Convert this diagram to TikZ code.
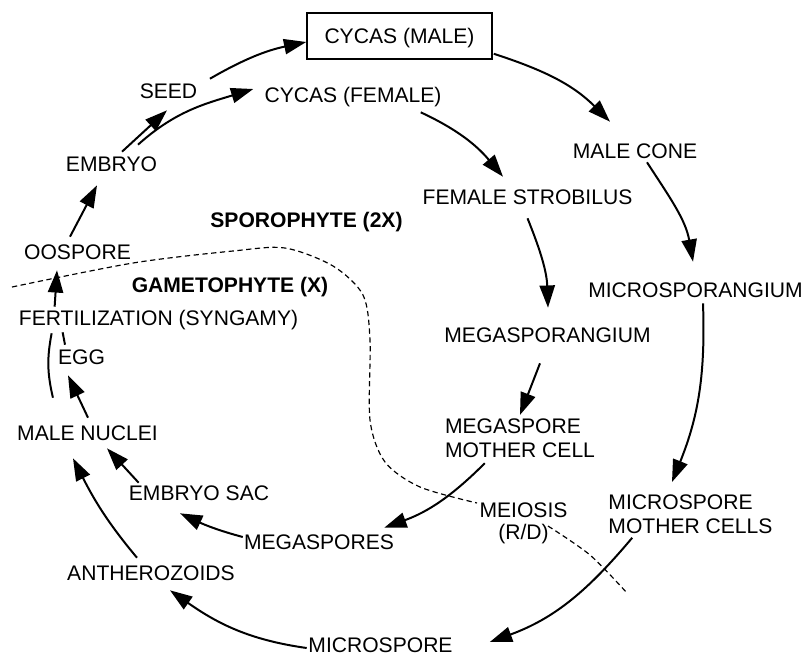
\documentclass[tikz,border=0pt]{standalone}
\usepackage{fontspec}
\setmainfont{Liberation Sans}
\usetikzlibrary{arrows.meta}

\begin{document}
\begin{tikzpicture}[x=0.03cm, y=0.03cm,
    lbl/.style={inner sep=3pt, font=\fontsize{18}{20.4}\selectfont, text height=12.9pt, text depth=0pt},
    lbltwo/.style={inner sep=3pt, font=\fontsize{18}{20.4}\selectfont, align=left},
    phase/.style={lbl, font=\fontsize{18}{20.4}\selectfont\bfseries},
    box/.style={lbl, draw, line width=1.3pt, inner sep=0pt, minimum width=5.55cm, minimum height=1.38cm},
    arr/.style={line width=1.7pt, -{Triangle[length=19pt, width=13pt]}},
    link/.style={line width=1.7pt},
    bound/.style={line width=1pt, dash pattern=on 4.5pt off 3pt}]
                \useasboundingbox (0,0) rectangle (809,-658);
                \node[box] (male) at (399.5,-36) {CYCAS (MALE)};
                \node[lbl] (female) at (353,-95) {CYCAS (FEMALE)};
                \node[lbl] (seed) at (168.5,-91) {SEED};
                \node[lbl] (embryo) at (111.5,-164) {EMBRYO};
                \node[lbl] (oospore) at (77.5,-252) {OOSPORE};
                \node[phase] (sporo) at (306.5,-220) {SPOROPHYTE (2X)};
                \node[phase] (gameto) at (230,-285) {GAMETOPHYTE (X)};
                \node[lbl] (fert) at (158.5,-318) {FERTILIZATION (SYNGAMY)};
                \node[lbl] (egg) at (81.5,-357) {EGG};
                \node[lbl] (malenuc) at (87.5,-433) {MALE NUCLEI};
                \node[lbl] (sac) at (199,-493) {EMBRYO SAC};
                \node[lbl] (megas) at (319,-542) {MEGASPORES};
                \node[lbl] (anthero) at (151,-573) {ANTHEROZOIDS};
                \node[lbl] (micro) at (380.5,-645) {MICROSPORE};
                \node[lbl] (cone) at (635,-151) {MALE CONE};
                \node[lbl] (strob) at (527.5,-197) {FEMALE STROBILUS};
                \node[lbl] (msg) at (695.5,-290) {MICROSPORANGIUM};
                \node[lbl] (mgs) at (547.5,-335) {MEGASPORANGIUM};
                \node[lbltwo, anchor=north] (mmc) at (520,-414.9) {MEGASPORE\\MOTHER CELL};
                \node[lbltwo, anchor=north, align=center] (meiosis) at (523.5,-498.9) {MEIOSIS\\[-1.7pt](R/D)};
                \node[lbltwo, anchor=north] (micromc) at (690.5,-491.4) {MICROSPORE\\MOTHER CELLS};

                \draw[arr] ([shift={(9,1)}]seed.north east) to[out=30, in=192] ([shift={(0,-6)}]male.west);
                \draw[arr] ([shift={(10.5,1)}]embryo.north) -- ([shift={(-1.5,-8)}]seed.south);
                \draw[arr] ([shift={(26.5,8)}]embryo.north) to[out=42, in=197] ([shift={(-7.5,6)}]female.west);
                \draw[arr] ([shift={(-7.5,4)}]oospore.north) -- ([shift={(-14.5,-10)}]embryo.south);
                \draw[arr] ([shift={(39.5,0)}]fert.north west) -- ([shift={(-20.5,-7)}]oospore.south);
                \draw[link] ([shift={(39.5,24)}]malenuc.north west) to[bend left=12] ([shift={(36.5,-4)}]fert.south west);
                \draw[link] ([shift={(-16.5,1)}]egg.north) -- ([shift={(47.5,-3)}]fert.south west);
                \draw[arr] ([shift={(0.5,4)}]malenuc.north) -- ([shift={(-13.5,-7)}]egg.south);
                \draw[arr] ([shift={(13.5,-1)}]sac.north west) -- ([shift={(19.5,-4)}]malenuc.south);
                \draw[arr] ([shift={(-14,4)}]anthero.north) to[out=130, in=-63] ([shift={(-14.5,-14)}]malenuc.south);
                \draw[arr] ([shift={(2.5,5)}]megas.west) to[out=165, in=-25] ([shift={(-19,-9)}]sac.south);
                \draw[arr] ([shift={(2,-3)}]micro.west) to[out=172, in=-35] ([shift={(19,-6)}]anthero.south);
                \draw[arr] ([shift={(43.5,-2)}]mmc.south west) to[out=225, in=20] ([shift={(-13.5,3)}]megas.north east);
                \draw[arr] ([shift={(-7.5,-17)}]mgs.south) -- (mmc.north);
                \draw[arr] ([shift={(0,-10)}]strob.south) to[out=-68, in=92] ([shift={(0.5,16)}]mgs.north);
                \draw[arr] ([shift={(-24.5,-6)}]female.south east) to[out=-25, in=130] ([shift={(-24.5,9)}]strob.north);
                \draw[arr] ([shift={(1,6)}]male.south east) to[out=-18, in=135] ([shift={(-25,18)}]cone.north);
                \draw[arr] ([shift={(12,0)}]cone.south) to[out=-57, in=100] ([shift={(-2.5,17)}]msg.north);
                \draw[arr] ([shift={(7.5,-2)}]msg.south) to[out=-88, in=68] ([shift={(-18.5,9.4)}]micromc.north);
                \draw[arr] ([shift={(27.5,0)}]micromc.south west) to[out=230, in=20] ([shift={(33.5,3)}]micro.east);

                \draw[bound] plot[smooth] coordinates {(12,-287) (133,-263) (233,-251) (285,-248) (333,-266) (363,-295) (370,-340) (370,-420) (385,-462) (420,-487) (477,-503)};
                \draw[bound] plot[smooth] coordinates {(548,-526) (590,-555) (627,-593)};
            \end{tikzpicture}
\end{document}
